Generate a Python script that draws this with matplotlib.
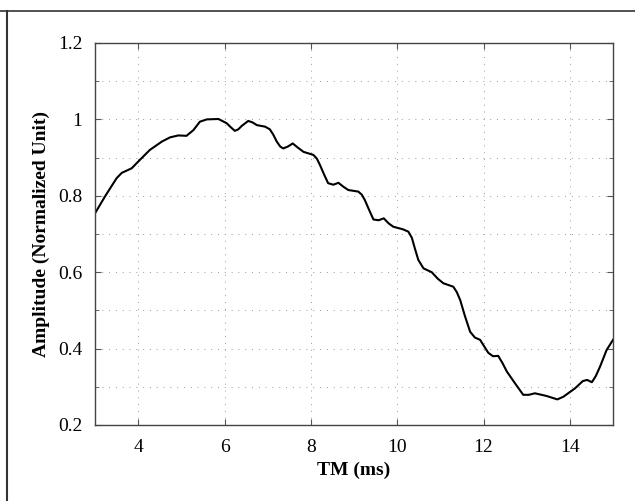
import numpy as np
import matplotlib.pyplot as plt
from matplotlib.lines import Line2D
from matplotlib.ticker import MultipleLocator

# curve
tm = [3.0, 3.23, 3.50, 3.62, 3.85, 4.04, 4.27, 4.55, 4.74, 4.93, 5.12, 5.28,
      5.43, 5.59, 5.86, 6.05, 6.15, 6.24, 6.32, 6.40, 6.55, 6.65, 6.75, 6.94,
      7.05, 7.13, 7.21, 7.29, 7.36, 7.47, 7.58, 7.70, 7.83, 8.06, 8.14, 8.21,
      8.31, 8.40, 8.52, 8.64, 8.75, 8.87, 9.10, 9.18, 9.25, 9.35, 9.45, 9.57,
      9.69, 9.80, 9.91, 10.14, 10.26, 10.34, 10.41, 10.49, 10.61, 10.80,
      10.94, 11.07, 11.30, 11.38, 11.46, 11.57, 11.69, 11.80, 11.92, 12.11,
      12.22, 12.34, 12.44, 12.54, 12.73, 12.92, 13.05, 13.19, 13.46, 13.71,
      13.85, 13.96, 14.12, 14.30, 14.40, 14.51, 14.60, 14.70, 14.85, 15.0]
amp = [0.754, 0.798, 0.846, 0.860, 0.872, 0.894, 0.920, 0.942, 0.953, 0.958,
       0.957, 0.972, 0.994, 1.000, 1.001, 0.990, 0.979, 0.970, 0.974, 0.983,
       0.996, 0.992, 0.985, 0.981, 0.974, 0.960, 0.942, 0.929, 0.924, 0.929,
       0.937, 0.926, 0.915, 0.907, 0.897, 0.881, 0.855, 0.833, 0.829, 0.834,
       0.824, 0.815, 0.811, 0.803, 0.789, 0.763, 0.738, 0.736, 0.741, 0.728,
       0.719, 0.712, 0.706, 0.690, 0.662, 0.632, 0.610, 0.600, 0.583, 0.571,
       0.562, 0.548, 0.527, 0.485, 0.444, 0.429, 0.423, 0.389, 0.380, 0.381,
       0.362, 0.340, 0.309, 0.279, 0.279, 0.283, 0.276, 0.267, 0.274, 0.283,
       0.296, 0.315, 0.318, 0.312, 0.328, 0.353, 0.396, 0.423]

xticks = [4, 6, 8, 10, 12, 14]
yticks = [0.2, 0.4, 0.6, 0.8, 1.0, 1.2]
yticklabels = ["0.2", "0.4", "0.6", "0.8", "1", "1.2"]

plt.rcParams['font.family'] = ['Liberation Serif', 'DejaVu Serif']

fig = plt.figure(figsize=(6.35, 5.01), dpi=100)
ax = fig.add_axes([0.1496, 0.1517, 0.8158, 0.7625])

ax.plot(tm, amp, color='black', lw=1.5, solid_joinstyle='round')

ax.set_xlim(3, 15)
ax.set_ylim(0.2, 1.2)
ax.set_xticks(xticks)
ax.set_yticks(yticks)
ax.set_yticklabels(yticklabels)
ax.yaxis.set_minor_locator(MultipleLocator(0.1))
ax.tick_params(which='both', direction='in', top=True, right=True,
               labelsize=14, color='#555555')
ax.tick_params(which='major', length=4)
ax.tick_params(which='minor', length=3)
ax.tick_params(axis='y', pad=9)
ax.tick_params(axis='x', pad=10)

ax.grid(True, which='major', axis='x', ls=(0, (1, 6)), color='#999999', lw=0.7)
ax.grid(True, which='both', axis='y', ls=(0, (1, 6)), color='#999999', lw=0.7)

for s in ax.spines.values():
    s.set_color('#444444')
    s.set_linewidth(1.0)

ax.set_xlabel('TM (ms)', fontsize=14, fontweight='bold', labelpad=4)
ax.set_ylabel('Amplitude (Normalized Unit)', fontsize=14, fontweight='bold', labelpad=6)

# scanned page frame
fig.add_artist(Line2D([0, 1], [0.979, 0.979], transform=fig.transFigure, color='#333333', lw=1.2))
fig.add_artist(Line2D([0.011, 0.011], [0.0, 0.979], transform=fig.transFigure, color='#333333', lw=1.5))

fig.savefig('out.png', dpi=100)
